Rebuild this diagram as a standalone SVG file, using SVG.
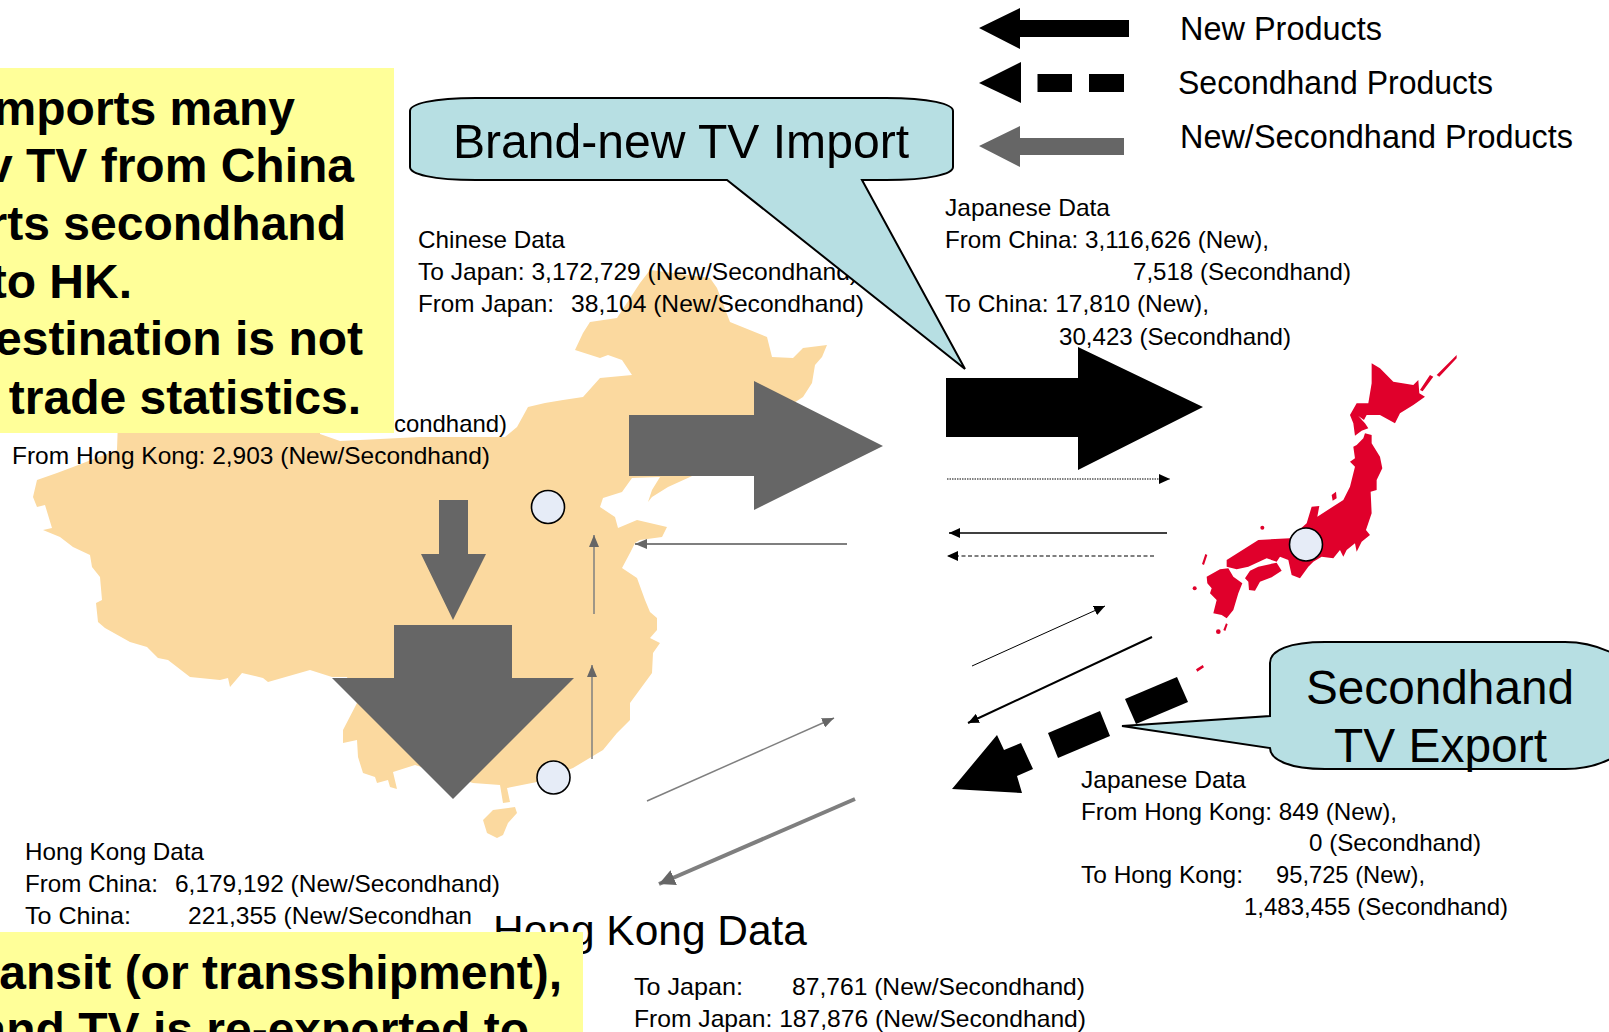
<svg xmlns="http://www.w3.org/2000/svg" width="1609" height="1032" viewBox="0 0 1609 1032">
<style>
text{font-family:"Liberation Sans",Arial,sans-serif;fill:#000}
.s{font-size:24px}
.l{font-size:33px}
.b{font-size:48px;font-weight:bold;text-anchor:end}
.c{font-size:48px}
.g{fill:#666}
.k{fill:#000}
.m{fill:#fbd99f}
.j{fill:#e0002b}
.y{fill:#ffff99}
.t{fill:#b7dfe3;stroke:#000;stroke-width:2}
.o{fill:#e6ecf7;stroke:#000;stroke-width:1.6}
.lg{fill:none;stroke:#7f7f7f}
.lk{fill:none;stroke:#000}
</style>
<defs>
<marker id="hk" markerUnits="userSpaceOnUse" markerWidth="12" markerHeight="10" refX="11" refY="5" orient="auto"><path d="M0 0L11 5L0 10z" fill="#000"/></marker>
<marker id="hg" markerUnits="userSpaceOnUse" markerWidth="13" markerHeight="10" refX="12" refY="5" orient="auto"><path d="M0 0L12 5L0 10z" fill="#666"/></marker>
<marker id="hg2" markerUnits="userSpaceOnUse" markerWidth="17" markerHeight="16" refX="16" refY="8" orient="auto"><path d="M0 0L16 8L0 16z" fill="#666"/></marker>
</defs>
<g id="china-map">
<path class="m" d="M575 350L583 333L590 322L617 318L640 283L650 270L710 278L717 288L730 322L767 337L772 357L793 358L803 348L827 345L822 357L815 365L812 383L803 397L760 425L725 460L690 477L668 487L652 497L648 502L652 490L660 477L632 478L622 492L603 498L600 507L615 517L618 528L637 520L667 527L662 537L640 540L635 543L630 553L622 568L637 578L645 600L650 612L657 618L657 630L650 638L660 643L653 653L652 673L630 703L630 720L617 733L603 750L573 768L537 782L507 788L510 802L503 803L500 785L473 783L415 765L393 772L397 789L390 787L388 780L377 783L375 777L363 773L358 757L357 740L343 743L343 730L357 703L347 677L332 677L310 670L268 682L263 678L242 673L230 687L228 678L220 680L190 677L168 660L158 658L147 647L130 642L105 628L98 622L96 603L102 600L100 577L92 567L90 555L73 547L60 537L43 530L52 528L45 505L37 507L33 497L37 480L57 473L73 467L117 450L118 420L320 420L320 434L340 441L420 437L505 437L517 427L528 407L545 403L563 400L583 397L600 378L632 375L622 360L608 355L600 358L575 350z"/>
<path class="m" d="M483 820L493 810L515 807L517 813L508 823L503 835L497 838L487 833z"/>
</g>
<g id="japan-map" transform="translate(1180 340) scale(.3333)">
<path class="j" d="M575 70L600 85L640 125L700 135L715 120L718 160L735 170L700 195L660 220L645 250L600 225L560 225L552 240L535 228L555 250L565 265L545 272L525 287L520 250L510 225L530 190L565 190L575 130z"/>
<path class="j" d="M770 105L830 45L830 55L778 110zM720 150L750 105L760 110L728 154z"/>
<path class="j" d="M530 315L550 295L555 280L575 285L575 310L600 350L607 385L590 420L590 450L572 455L575 520L558 570L570 585L545 605L530 635L525 610L500 630L490 650L480 630L460 655L425 650L400 665L385 680L360 715L335 705L325 660L300 650L290 665L260 655L205 680L170 688L140 680L140 660L235 600L330 595L380 550L395 500L418 498L412 530L490 480L510 440L525 380L510 365L525 355L520 320z"/>
<path class="j" d="M195 715L210 692L235 680L290 668L305 692L275 712L240 725L225 752L207 750L205 725z"/>
<path class="j" d="M80 710L120 688L145 685L160 710L187 730L175 760L160 810L140 835L125 825L100 820L110 780L90 760L95 745L82 730z"/>
<path class="j" d="M455 465L468 455L470 475L458 482zM66 672L76 642L82 645L72 675zM130 870L138 850L143 853L136 873zM48 988L68 975L72 982L52 995z"/>
<circle class="j" cx="247" cy="563" r="6"/><circle class="j" cx="44" cy="745" r="6"/><circle class="j" cx="115" cy="875" r="7"/>
</g>
<g id="chinese-data">
<text class="s" x="418" y="248" textLength="147" lengthAdjust="spacingAndGlyphs">Chinese Data</text>
<text class="s" x="418" y="280" textLength="440" lengthAdjust="spacingAndGlyphs">To Japan: 3,172,729 (New/Secondhand)</text>
<text class="s" x="418" y="312" textLength="136" lengthAdjust="spacingAndGlyphs">From Japan:</text>
<text class="s" x="571" y="312" textLength="293" lengthAdjust="spacingAndGlyphs">38,104 (New/Secondhand)</text>
<text class="s" x="394" y="432" textLength="113" lengthAdjust="spacingAndGlyphs">condhand)</text>
<text class="s" x="12" y="464" textLength="478" lengthAdjust="spacingAndGlyphs">From Hong Kong: 2,903 (New/Secondhand)</text>
</g>
<g id="japanese-data-china">
<text class="s" x="945" y="216" textLength="165" lengthAdjust="spacingAndGlyphs">Japanese Data</text>
<text class="s" x="945" y="248" textLength="324" lengthAdjust="spacingAndGlyphs">From China: 3,116,626 (New),</text>
<text class="s" x="1133" y="280" textLength="218" lengthAdjust="spacingAndGlyphs">7,518 (Secondhand)</text>
<text class="s" x="945" y="312" textLength="264" lengthAdjust="spacingAndGlyphs">To China: 17,810 (New),</text>
<text class="s" x="1059" y="345" textLength="232" lengthAdjust="spacingAndGlyphs">30,423 (Secondhand)</text>
</g>
<g id="japanese-data-hk">
<text class="s" x="1081" y="788" textLength="165" lengthAdjust="spacingAndGlyphs">Japanese Data</text>
<text class="s" x="1081" y="820" textLength="316" lengthAdjust="spacingAndGlyphs">From Hong Kong: 849 (New),</text>
<text class="s" x="1309" y="851" textLength="172" lengthAdjust="spacingAndGlyphs">0 (Secondhand)</text>
<text class="s" x="1081" y="883" textLength="162" lengthAdjust="spacingAndGlyphs">To Hong Kong:</text>
<text class="s" x="1276" y="883" textLength="149" lengthAdjust="spacingAndGlyphs">95,725 (New),</text>
<text class="s" x="1244" y="915" textLength="264" lengthAdjust="spacingAndGlyphs">1,483,455 (Secondhand)</text>
</g>
<g id="hk-data-china">
<text class="s" x="25" y="860" textLength="179" lengthAdjust="spacingAndGlyphs">Hong Kong Data</text>
<text class="s" x="25" y="892" textLength="133" lengthAdjust="spacingAndGlyphs">From China:</text>
<text class="s" x="175" y="892" textLength="325" lengthAdjust="spacingAndGlyphs">6,179,192 (New/Secondhand)</text>
<text class="s" x="25" y="924" textLength="106" lengthAdjust="spacingAndGlyphs">To China:</text>
<text class="s" x="188" y="924" textLength="284" lengthAdjust="spacingAndGlyphs">221,355 (New/Secondhan</text>
</g>
<g id="hk-data-japan">
<text x="493" y="945" font-size="43" textLength="314" lengthAdjust="spacingAndGlyphs">Hong Kong Data</text>
<text class="s" x="634" y="995" textLength="109" lengthAdjust="spacingAndGlyphs">To Japan:</text>
<text class="s" x="792" y="995" textLength="293" lengthAdjust="spacingAndGlyphs">87,761 (New/Secondhand)</text>
<text class="s" x="634" y="1027" textLength="452" lengthAdjust="spacingAndGlyphs">From Japan: 187,876 (New/Secondhand)</text>
</g>
<g id="legend">
<path class="k" d="M979 28L1020 8V20H1129V37H1020V49z"/>
<path class="k" d="M979 83L1021 62V103z"/>
<rect class="k" x="1037.500" y="74" width="34.500" height="18"/>
<rect class="k" x="1089" y="74" width="35" height="18"/>
<path class="g" d="M979 146L1020 126V138H1124V155H1020V167z"/>
<text class="l" x="1180" y="40" textLength="202" lengthAdjust="spacingAndGlyphs">New Products</text>
<text class="l" x="1178" y="94" textLength="315" lengthAdjust="spacingAndGlyphs">Secondhand Products</text>
<text class="l" x="1180" y="148" textLength="393" lengthAdjust="spacingAndGlyphs">New/Secondhand Products</text>
</g>
<g id="connectors">
<path class="g" d="M629 415H754V381L883 446L754 510V476H629z"/>
<path class="g" d="M439 500H468V554H486L453 620L421 554H439z"/>
<path class="g" d="M394 625H512V678H574L453 799L332 678H394z"/>
<path class="k" d="M946 378H1078V347L1203 407L1078 470V437H946z"/>
<path class="k" d="M952 789L997 735L1004 750L1021 743L1033 769L1017 776L1022 793z"/>
<path class="k" d="M1048 733L1100 711L1110 736L1058 758z"/>
<path class="k" d="M1125 699L1177 677L1188 702L1136 724z"/>
<path class="lk" stroke-width="1" stroke-dasharray="1.500 1" marker-end="url(#hk)" d="M947 479H1170"/>
<path class="lk" stroke-width="1.500" marker-end="url(#hk)" d="M1167 533H949"/>
<path class="lk" stroke-width="1.200" stroke-dasharray="4 2.500" marker-end="url(#hk)" d="M1154 556H947"/>
<path class="lk" stroke-width="1" marker-end="url(#hk)" d="M972 666L1105 606"/>
<path class="lk" stroke-width="2" marker-end="url(#hk)" d="M1152 637L968 723"/>
<path class="lg" stroke-width="2" marker-end="url(#hg)" d="M847 544H635"/>
<path class="lg" stroke-width="1.500" marker-end="url(#hg)" d="M594 614V535"/>
<path class="lg" stroke-width="1.500" marker-end="url(#hg)" d="M592 759V665"/>
<path class="lg" stroke-width="1.500" marker-end="url(#hg)" d="M647 801L834 718"/>
<path class="lg" stroke-width="4" marker-end="url(#hg2)" d="M855 799L659 884"/>
</g>
<g id="beijing"><circle class="o" cx="548" cy="507" r="16.500"/></g>
<g id="hong-kong"><circle class="o" cx="553.500" cy="777.500" r="16.500"/></g>
<g id="tokyo"><circle class="o" cx="1306" cy="544.500" r="16.500"/></g>
<g id="callout-import">
<path class="t" d="M476 98H886C930 98 953 104 953 111V167C953 174 930 180 886 180H862L965 369L727 180H476C432 180 410 174 410 167V111C410 104 432 98 476 98z"/>
<text class="c" x="453" y="158" textLength="456" lengthAdjust="spacingAndGlyphs">Brand-new TV Import</text>
</g>
<g id="callout-export">
<path class="t" d="M1325 642H1565C1590 642 1609 650 1625 660V750C1609 762 1590 769 1565 769H1325C1290 769 1270 760 1270 748L1122 726L1270 716V663C1270 650 1290 642 1325 642z"/>
<text class="c" x="1306" y="704" textLength="268" lengthAdjust="spacingAndGlyphs">Secondhand</text>
<text class="c" x="1334" y="762" textLength="213" lengthAdjust="spacingAndGlyphs">TV Export</text>
</g>
<g id="note-top">
<rect class="y" x="0" y="68" width="394" height="365"/>
<text class="b" x="295" y="125">mports many</text>
<text class="b" x="354" y="182">v TV from China</text>
<text class="b" x="346" y="240">rts secondhand</text>
<text class="b" x="132" y="297.500">to HK.</text>
<text class="b" x="363" y="355">estination is not</text>
<text class="b" x="361" y="413.500">trade statistics.</text>
</g>
<g id="note-bottom">
<rect class="y" x="0" y="932" width="583" height="100"/>
<text class="b" x="562" y="989">ansit (or transshipment),</text>
<text class="b" x="529" y="1046">and TV is re-exported to</text>
</g>
</svg>
